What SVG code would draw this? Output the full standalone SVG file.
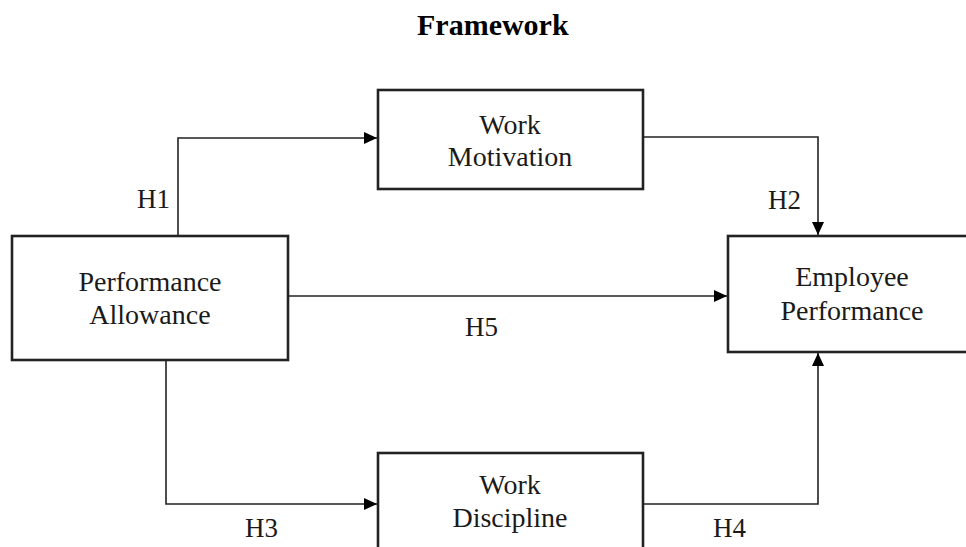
<svg xmlns="http://www.w3.org/2000/svg" width="966" height="547" viewBox="0 0 966 547">
<style>
.box{fill:#fff;stroke:#222;stroke-width:2.6}
.lbl{font-family:"Liberation Serif","Times New Roman",serif;font-size:28px;fill:#1a1a1a;text-anchor:middle}
.h{font-family:"Liberation Serif","Times New Roman",serif;font-size:27px;fill:#1a1a1a}
.title{font-family:"Liberation Serif","Times New Roman",serif;font-size:30px;font-weight:bold;fill:#000}
.con{fill:none;stroke:#222;stroke-width:1.6}
</style>
<defs>
<marker id="arr" markerUnits="userSpaceOnUse" markerWidth="14" markerHeight="12" refX="13" refY="6" orient="auto">
<path d="M0,0 L13,6 L0,12 Z" fill="#000"/>
</marker>
</defs>
<rect width="966" height="547" fill="#fff"/>
<text class="title" x="417" y="35">Framework</text>
<g id="connectors">
<path class="con" d="M178,236 V138 H377" marker-end="url(#arr)"/>
<path class="con" d="M643,137 H818 V235" marker-end="url(#arr)"/>
<path class="con" d="M288,296 H727" marker-end="url(#arr)"/>
<path class="con" d="M166,360 V504 H377" marker-end="url(#arr)"/>
<path class="con" d="M643,504 H818 V353" marker-end="url(#arr)"/>
<text class="h" x="137" y="208">H1</text>
<text class="h" x="768" y="209">H2</text>
<text class="h" x="245" y="537">H3</text>
<text class="h" x="713" y="537">H4</text>
<text class="h" x="465" y="336">H5</text>
</g>
<g id="work-motivation">
<rect class="box" x="378" y="90" width="265" height="99"/>
<text class="lbl" x="510" y="134">Work</text>
<text class="lbl" x="510" y="166">Motivation</text>
</g>
<g id="performance-allowance">
<rect class="box" x="12" y="236" width="276" height="124"/>
<text class="lbl" x="150" y="291">Performance</text>
<text class="lbl" x="150" y="324">Allowance</text>
</g>
<g id="employee-performance">
<rect class="box" x="728" y="236" width="262" height="116"/>
<text class="lbl" x="852" y="286">Employee</text>
<text class="lbl" x="852" y="320">Performance</text>
</g>
<g id="work-discipline">
<rect class="box" x="378" y="453" width="265" height="110"/>
<text class="lbl" x="510" y="494">Work</text>
<text class="lbl" x="510" y="527">Discipline</text>
</g>
</svg>
